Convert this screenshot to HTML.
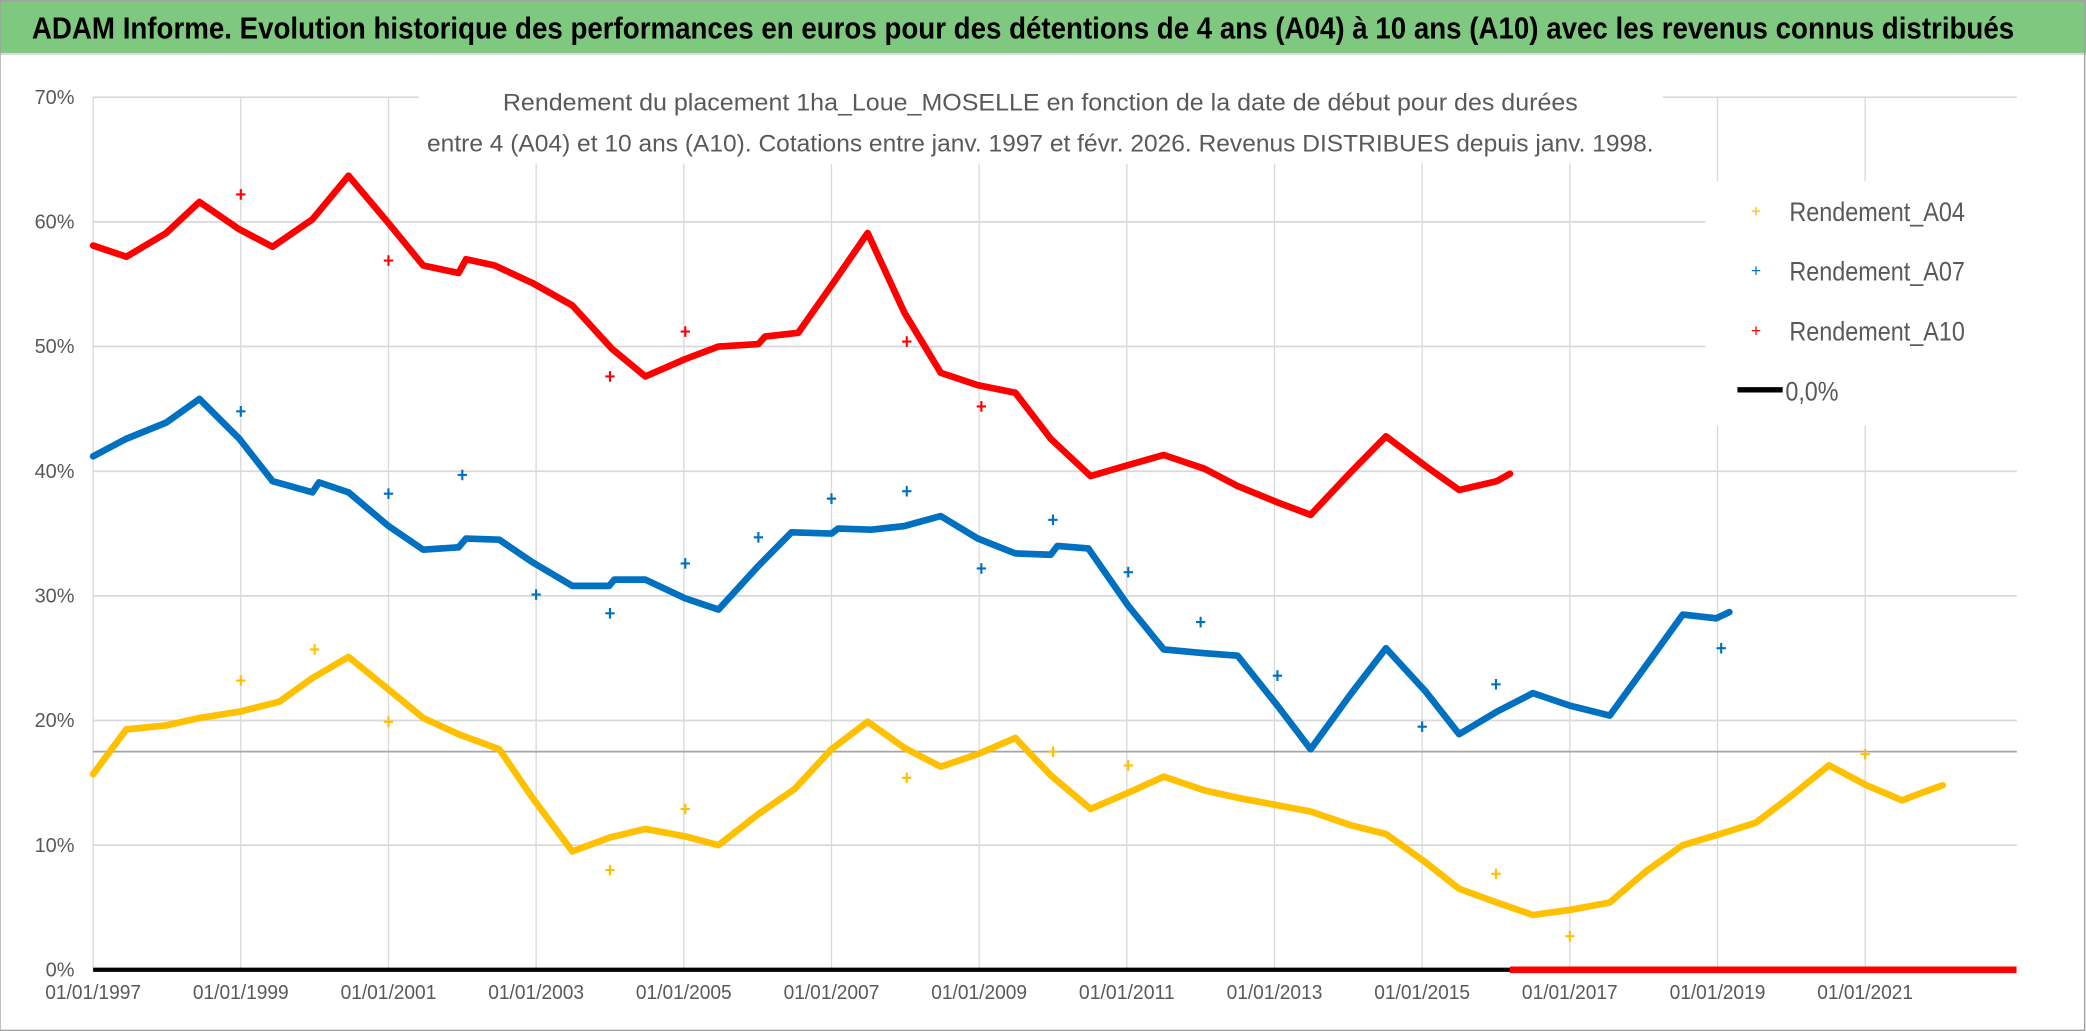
<!DOCTYPE html>
<html><head><meta charset="utf-8"><style>
html,body{margin:0;padding:0;background:#fff;}
svg{display:block;}
text{font-family:"Liberation Sans Narrow","Liberation Sans",sans-serif;}
</style></head><body>
<svg id="chart" width="2086" height="1031" viewBox="0 0 1568 775" preserveAspectRatio="none" xmlns="http://www.w3.org/2000/svg">
<rect x="0" y="0" width="1568" height="775" fill="#fff"/>
<rect x="0" y="0" width="1568" height="40" fill="#7ec87f"/>
<line x1="0" y1="40.5" x2="1568" y2="40.5" stroke="#d8d8d8" stroke-width="1.5"/>
<rect x="0" y="0.5" width="1567" height="774" fill="none" stroke="#a0a0a0" stroke-width="1"/>
<text x="24" y="29" font-size="23" font-weight="bold" fill="#000" textLength="1490" lengthAdjust="spacingAndGlyphs">ADAM Informe. Evolution historique des performances en euros pour des détentions de 4 ans (A04) à 10 ans (A10) avec les revenus connus distribués</text>
<g id="grid"></g>
<g id="marks"></g>
<rect x="315" y="55" width="935" height="68" fill="#fff"/>
<text x="782" y="83" font-size="18" fill="#595959" text-anchor="middle" textLength="808" lengthAdjust="spacingAndGlyphs">Rendement du placement 1ha_Loue_MOSELLE en fonction de la date de début pour des durées</text>
<text x="782" y="114" font-size="18" fill="#595959" text-anchor="middle" textLength="922" lengthAdjust="spacingAndGlyphs">entre 4 (A04) et 10 ans (A10). Cotations entre janv. 1997 et févr. 2026. Revenus DISTRIBUES depuis janv. 1998.</text>
<g>
<rect x="1282" y="136" width="234" height="184" fill="#fff"/>
<g><text x="1320" y="163" font-size="13" fill="#ffc000" text-anchor="middle">+</text><text x="1345" y="166" font-size="20" fill="#595959" textLength="132" lengthAdjust="spacingAndGlyphs">Rendement_A04</text></g>
<g><text x="1320" y="208" font-size="13" fill="#0070c0" text-anchor="middle">+</text><text x="1345" y="211" font-size="20" fill="#595959" textLength="132" lengthAdjust="spacingAndGlyphs">Rendement_A07</text></g>
<g><text x="1320" y="253" font-size="13" fill="#ff0000" text-anchor="middle">+</text><text x="1345" y="256" font-size="20" fill="#595959" textLength="132" lengthAdjust="spacingAndGlyphs">Rendement_A10</text></g>
<g><line x1="1306" y1="293" x2="1340" y2="293" stroke="#000" stroke-width="4"/><text x="1342" y="301" font-size="20" fill="#595959" textLength="40" lengthAdjust="spacingAndGlyphs">0,0%</text></g>
</g>
</svg>
<script>
const yTicks = [0, 10, 20, 30, 40, 50, 60, 70];
const xTickYears = [1997, 1999, 2001, 2003, 2005, 2007, 2009, 2011, 2013, 2015, 2017, 2019, 2021];
const refLineValue = 17.5;

const a10Years = [1997.0,1997.45,1997.99,1998.44,1998.98,1999.43,1999.97,2000.46,2001.0,2001.47,2001.95,2002.05,2002.44,2002.95,2003.49,2004.03,2004.48,2005.02,2005.47,2006.01,2006.1,2006.55,2007.0,2007.49,2007.99,2008.48,2008.98,2009.49,2009.97,2010.51,2010.96,2011.5,2012.05,2012.5,2013.04,2013.49,2014.03,2014.51,2015.05,2015.5,2016.01,2016.19];
const a10Values = [58.1,57.2,59.1,61.6,59.4,58.0,60.2,63.7,59.9,56.5,55.9,57.0,56.5,55.1,53.3,49.8,47.6,49.0,50.0,50.2,50.8,51.1,54.9,59.1,52.7,47.9,46.9,46.3,42.6,39.6,40.4,41.3,40.2,38.8,37.5,36.5,39.9,42.8,40.4,38.5,39.2,39.8];
const a10OutYears = [1999.0,2001.0,2004.0,2005.02,2008.02,2009.03];
const a10OutValues = [62.2,56.9,47.6,51.2,50.4,45.2];
const a10ZeroRange = [2016.19, 2023.05];

const a07Years = [1997.0,1997.45,1997.99,1998.44,1998.98,1999.43,1999.97,2000.06,2000.46,2001.0,2001.47,2001.95,2002.05,2002.5,2002.95,2003.49,2003.99,2004.06,2004.48,2005.02,2005.47,2006.01,2006.46,2007.0,2007.09,2007.54,2007.99,2008.48,2008.98,2009.49,2009.97,2010.06,2010.48,2011.02,2011.5,2012.05,2012.5,2013.04,2013.49,2014.03,2014.51,2015.05,2015.5,2016.01,2016.5,2017.0,2017.54,2018.03,2018.53,2018.98,2019.16];
const a07Values = [41.2,42.6,43.9,45.8,42.6,39.2,38.3,39.1,38.3,35.6,33.7,33.9,34.6,34.5,32.7,30.8,30.8,31.3,31.3,29.8,28.9,32.4,35.1,35.0,35.4,35.3,35.6,36.4,34.6,33.4,33.3,34.0,33.8,29.2,25.7,25.4,25.2,21.2,17.7,22.1,25.8,22.3,18.9,20.7,22.2,21.2,20.4,24.4,28.5,28.2,28.7];
const a07OutYears = [1999.0,2001.0,2002.0,2003.0,2004.0,2005.02,2006.01,2007.0,2008.02,2009.03,2010.0,2011.02,2012.0,2013.04,2015.0,2016.0,2019.05];
const a07OutValues = [44.8,38.2,39.7,30.1,28.6,32.6,34.7,37.8,38.4,32.2,36.1,31.9,27.9,23.6,19.5,22.9,25.8];

const a04Years = [1997.0,1997.45,1997.99,1998.44,1998.98,1999.52,1999.97,2000.46,2001.0,2001.47,2001.95,2002.5,2002.95,2003.49,2003.99,2004.48,2005.02,2005.47,2006.01,2006.5,2007.0,2007.49,2007.99,2008.48,2008.98,2009.49,2009.97,2010.51,2011.02,2011.5,2012.05,2012.5,2013.04,2013.49,2014.03,2014.51,2015.05,2015.5,2016.01,2016.5,2017.0,2017.54,2018.03,2018.53,2019.04,2019.52,2020.03,2020.51,2021.02,2021.5,2021.77,2022.05];
const a04Values = [15.7,19.3,19.6,20.2,20.7,21.5,23.4,25.1,22.5,20.2,18.9,17.7,13.8,9.5,10.6,11.3,10.7,10.0,12.5,14.5,17.7,19.9,17.8,16.3,17.3,18.6,15.6,12.9,14.2,15.5,14.4,13.8,13.2,12.7,11.6,10.9,8.6,6.5,5.4,4.4,4.8,5.4,7.9,10.0,10.9,11.8,14.1,16.4,14.8,13.6,14.2,14.8];
const a04OutYears = [1999.0,2000.0,2001.0,2004.0,2005.02,2008.02,2010.0,2011.02,2016.0,2017.0,2021.0];
const a04OutValues = [23.2,25.7,19.9,8.0,12.9,15.4,17.5,16.4,7.7,2.7,17.3];

const NS = 'http://www.w3.org/2000/svg';
const X0 = 70, PX_PER_YEAR = 55.5, Y0 = 729, PX_PER_PCT = 9.37, XMAX = 1516;
function xs(year){ return X0 + (year - 1997) * PX_PER_YEAR; }
function ys(v){ return Y0 - v * PX_PER_PCT; }
function mk(tag, attrs, parent){ const e = document.createElementNS(NS, tag); for (const k in attrs) e.setAttribute(k, attrs[k]); parent.appendChild(e); return e; }

const grid = document.getElementById('grid');
const marks = document.getElementById('marks');

xTickYears.forEach(yr => {
  const l = mk('line', {x1: xs(yr), x2: xs(yr), y1: ys(70), y2: ys(0), stroke: '#d9d9d9', 'stroke-width': 1}, grid);
  
  
  const t = mk('text', {x: xs(yr), y: 751, 'font-size': 15, fill: '#595959', 'text-anchor': 'middle', textLength: 72, lengthAdjust: 'spacingAndGlyphs'}, grid);
  t.textContent = '01/01/' + yr;
  
  
});
yTicks.forEach(v => {
  const l = mk('line', {x1: X0, x2: XMAX, y1: ys(v), y2: ys(v), stroke: '#d9d9d9', 'stroke-width': 1.3}, grid);
  
  
  const t = mk('text', {x: 56, y: ys(v) + 5, 'font-size': 15, fill: '#595959', 'text-anchor': 'end'}, grid);
  t.textContent = v + '%';
  
  
});
const ref = mk('line', {x1: X0, x2: XMAX, y1: ys(refLineValue), y2: ys(refLineValue), stroke: '#a6a6a6', 'stroke-width': 1.3}, grid);



function drawSeries(years, vals, outY, outV, color, name){
  const g = mk('g', {}, marks);
  
  
  const pts = years.map((y, i) => xs(y).toFixed(1) + ',' + ys(vals[i]).toFixed(1)).join(' ');
  const p = mk('polyline', {points: pts, fill: 'none', stroke: color, 'stroke-width': 5, 'stroke-linejoin': 'round', 'stroke-linecap': 'round'}, g);
  
  
  outY.forEach((y, i) => {
    const cx = xs(y), cy = ys(outV[i]);
    const o = mk('path', {d: `M${cx-3.5},${cy}H${cx+3.5}M${cx},${cy-4}V${cy+4}`, stroke: color, 'stroke-width': 1.6, fill: 'none'}, g);
    
    
  });
}
drawSeries(a04Years, a04Values, a04OutYears, a04OutValues, '#ffc000', 'series-a04');
drawSeries(a07Years, a07Values, a07OutYears, a07OutValues, '#0070c0', 'series-a07');
drawSeries(a10Years, a10Values, a10OutYears, a10OutValues, '#ff0000', 'series-a10');

const zl = mk('line', {x1: xs(1997), x2: xs(a10ZeroRange[0]), y1: ys(0), y2: ys(0), stroke: '#000', 'stroke-width': 3.2}, marks);


const rz = mk('line', {x1: xs(a10ZeroRange[0]), x2: xs(a10ZeroRange[1]), y1: ys(0), y2: ys(0), stroke: '#ff0000', 'stroke-width': 5}, marks);


</script>
</body></html>
